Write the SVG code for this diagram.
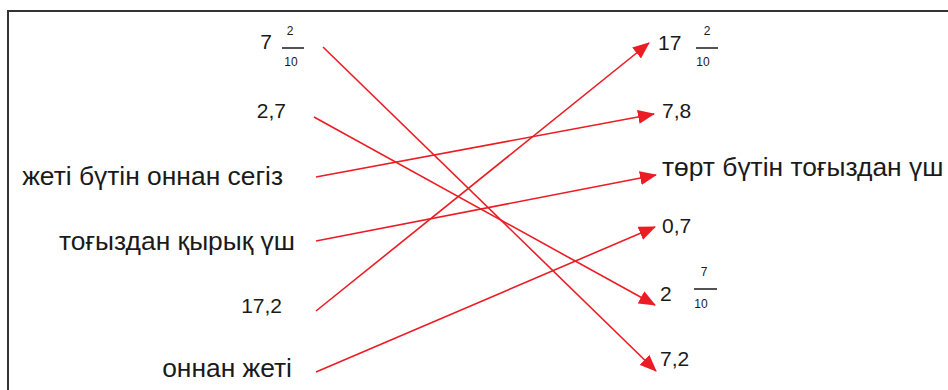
<svg xmlns="http://www.w3.org/2000/svg" width="948" height="390" viewBox="0 0 948 390">
<style>
  text { font-family: "Liberation Sans", Arial, sans-serif; fill: #1a1a1a; }
  .lbl { font-size: 26.4px; }
  .num { font-size: 21px; }
  .fr { font-size: 12px; }
  .bar { stroke: #1a1a1a; stroke-width: 1.5; }
  .con { stroke: #ec1c24; stroke-width: 1.6; fill: none; marker-end: url(#ah); }
</style>
<defs>
  <marker id="ah" markerUnits="userSpaceOnUse" markerWidth="17" markerHeight="14" viewBox="0 0 17 14" refX="16" refY="7" orient="auto">
    <path d="M0,0 L17,7 L0,14 z" fill="#ec1c24"/>
  </marker>
</defs>
<rect width="948" height="390" fill="#ffffff"/>
<g id="frame">
  <path d="M8,390 V11 H948" fill="none" stroke="#333333" stroke-width="2"/>
</g>
<g id="connectors">
  <line class="con" x1="323" y1="47" x2="656" y2="371"/>
  <line class="con" x1="314" y1="117" x2="655" y2="305"/>
  <line class="con" x1="316" y1="177" x2="654" y2="114"/>
  <line class="con" x1="316" y1="241" x2="656" y2="175"/>
  <line class="con" x1="316" y1="311" x2="649" y2="43"/>
  <line class="con" x1="316" y1="372" x2="655" y2="227"/>
</g>
<g id="L1">
  <text class="num" x="272" y="49" text-anchor="end">7</text>
  <text class="fr" x="290" y="35" text-anchor="middle">2</text>
  <line class="bar" x1="282" y1="48" x2="304" y2="48"/>
  <text class="fr" x="291" y="66" text-anchor="middle">10</text>
</g>
<g id="L2"><text class="num" x="286" y="118" text-anchor="end">2,7</text></g>
<g id="L3"><text class="lbl" x="283" y="185" text-anchor="end">жеті бүтін оннан сегіз</text></g>
<g id="L4"><text class="lbl" x="295" y="250" text-anchor="end">тоғыздан қырық үш</text></g>
<g id="L5"><text class="num" x="282" y="313" text-anchor="end">17,2</text></g>
<g id="L6"><text class="lbl" x="292" y="377" text-anchor="end">оннан жеті</text></g>
<g id="R1">
  <text class="num" x="658" y="50">17</text>
  <text class="fr" x="707" y="35" text-anchor="middle">2</text>
  <line class="bar" x1="696" y1="48" x2="718" y2="48"/>
  <text class="fr" x="703" y="66" text-anchor="middle">10</text>
</g>
<g id="R2"><text class="num" x="662" y="118">7,8</text></g>
<g id="R3"><text class="lbl" x="662" y="176">төрт бүтін тоғыздан үш</text></g>
<g id="R4"><text class="num" x="662" y="233">0,7</text></g>
<g id="R5">
  <text class="num" x="660" y="301">2</text>
  <text class="fr" x="704" y="276" text-anchor="middle">7</text>
  <line class="bar" x1="694" y1="289" x2="717" y2="289"/>
  <text class="fr" x="701" y="308" text-anchor="middle">10</text>
</g>
<g id="R6"><text class="num" x="660" y="366">7,2</text></g>
</svg>
